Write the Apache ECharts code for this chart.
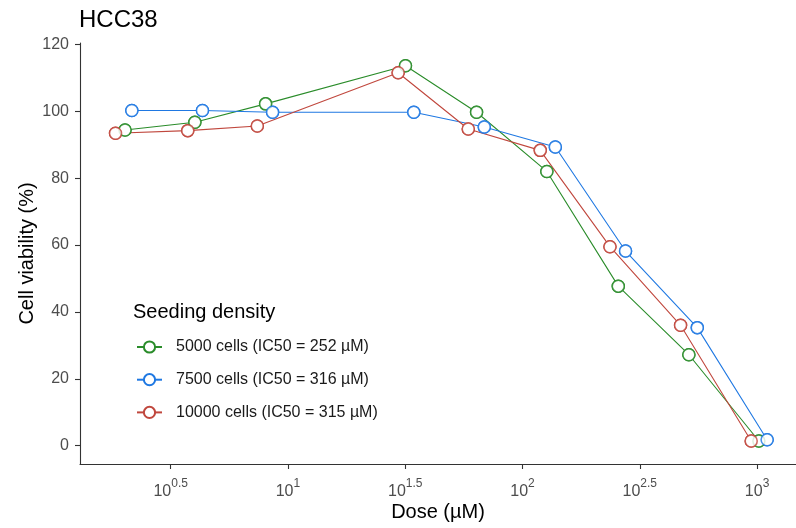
<!DOCTYPE html>
<html>
<head>
<meta charset="utf-8">
<script src="https://cdn.jsdelivr.net/npm/echarts@6.0.0/dist/echarts.min.js"></script>
<style>
  html, body { margin: 0; padding: 0; background: #fff; }
  #chart { width: 796px; height: 528px; }
</style>
</head>
<body>
<div id="chart"></div>
<script>
// dose (µM) per seeding density (groups are slightly dodged)
const dose5000 = [2.02, 4.01, 8.03, 31.7, 63.7, 127, 256, 512, 1018]
const dose7500 = [2.16, 4.32, 8.6, 34.4, 68.7, 138, 275, 556, 1104]
const dose10000 = [1.84, 3.74, 7.4, 29.5, 58.7, 119, 236, 472, 944]

// cell viability (%)
const via5000 = [94.4, 96.7, 102.2, 113.6, 99.7, 82.0, 47.7, 27.2, 1.4]
const via7500 = [100.2, 100.2, 99.7, 99.7, 95.3, 89.3, 58.2, 35.3, 1.8]
const via10000 = [93.4, 94.2, 95.6, 111.5, 94.7, 88.3, 59.5, 36.0, 1.4]

const seriesNames = [
  '5000 cells (IC50 = 252 µM)',
  '7500 cells (IC50 = 316 µM)',
  '10000 cells (IC50 = 315 µM)'
]
const colors = ['#2A8C2A', '#1F78E2', '#C0473D']

// tick labels
const xTickExponents = [0.5, 1, 1.5, 2, 2.5, 3]
const yTicks = [0, 20, 40, 60, 80, 100, 120]

const FONT = 'Liberation Sans, Arial, sans-serif'

const groups = [
  [dose5000, via5000],
  [dose7500, via7500],
  [dose10000, via10000]
]

const toPoints = (doses, vals) => doses.map((d, i) => [Math.log10(d), vals[i]])

const lineSeries = groups.map(([d, v], i) => ({
  name: seriesNames[i],
  type: 'line',
  data: toPoints(d, v),
  symbol: 'circle',
  symbolSize: 12,
  z: 2,
  lineStyle: { color: colors[i], width: 1.1 },
  itemStyle: { color: '#fff', borderColor: colors[i], borderWidth: 1.5 },
  emphasis: { disabled: true }
}))

// points drawn above all lines, like ggplot layering
const pointSeries = groups.map(([d, v], i) => ({
  name: 'pts' + i,
  type: 'scatter',
  data: toPoints(d, v),
  symbol: 'circle',
  symbolSize: 12,
  z: 3,
  itemStyle: { color: '#fff', borderColor: colors[i], borderWidth: 1.5 },
  emphasis: { disabled: true }
}))

const chart = echarts.init(document.getElementById('chart'))

chart.setOption({
  animation: false,
  textStyle: { fontFamily: FONT },
  title: [
    {
      text: 'HCC38',
      left: 79,
      top: 8,
      padding: 0,
      textStyle: { fontFamily: FONT, fontSize: 24, fontWeight: 'normal', color: '#000' }
    },
    {
      text: 'Seeding density',
      left: 133,
      top: 302,
      padding: 0,
      textStyle: { fontFamily: FONT, fontSize: 20, fontWeight: 'normal', color: '#000' }
    }
  ],
  legend: {
    data: seriesNames,
    orient: 'vertical',
    left: 136,
    top: 338,
    padding: 0,
    itemWidth: 25,
    itemHeight: 14,
    itemGap: 14.7,
    selectedMode: false,
    textStyle: {
      fontFamily: FONT,
      fontSize: 16,
      color: '#1a1a1a',
      lineHeight: 18,
      padding: [0, 0, 0, 9]
    }
  },
  grid: { left: 80, right: 0, top: 43, bottom: 64, containLabel: false },
  xAxis: {
    type: 'value',
    min: 0.1134,
    max: 3.166,
    name: 'Dose (µM)',
    nameLocation: 'middle',
    nameGap: 38,
    nameMoveOverlap: false,
    nameTextStyle: { fontFamily: FONT, fontSize: 20, color: '#000' },
    splitLine: { show: false },
    axisLine: { onZero: false, lineStyle: { color: '#333', width: 1.1 } },
    axisTick: { customValues: xTickExponents, length: 5, lineStyle: { color: '#333', width: 1.1 } },
    axisLabel: {
      customValues: xTickExponents,
      margin: 14,
      formatter: (v) => '{b|10}{s|' + v + '}',
      rich: {
        b: { fontFamily: FONT, fontSize: 16, color: '#4d4d4d', verticalAlign: 'bottom' },
        s: { fontFamily: FONT, fontSize: 12, color: '#4d4d4d', verticalAlign: 'bottom', padding: [0, 0, 10, 0] }
      }
    }
  },
  yAxis: {
    type: 'value',
    min: -5.47,
    max: 120.4,
    name: 'Cell viability (%)',
    nameLocation: 'middle',
    nameGap: 43,
    nameMoveOverlap: false,
    nameTextStyle: { fontFamily: FONT, fontSize: 20, color: '#000' },
    splitLine: { show: false },
    axisLine: { show: true, onZero: false, lineStyle: { color: '#333', width: 1.1 } },
    axisTick: { show: true, customValues: yTicks, length: 5, lineStyle: { color: '#333', width: 1.1 } },
    axisLabel: {
      customValues: yTicks,
      margin: 11,
      fontFamily: FONT,
      fontSize: 16,
      color: '#4d4d4d'
    }
  },
  series: [...lineSeries, ...pointSeries]
})
</script>
</body>
</html>
